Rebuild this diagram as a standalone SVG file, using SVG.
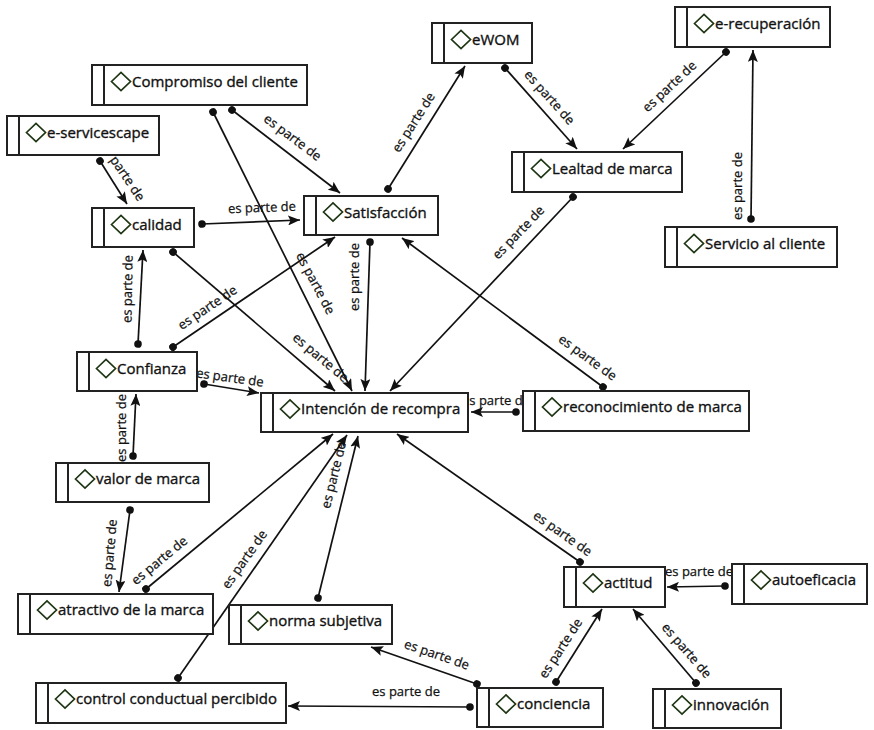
<svg xmlns="http://www.w3.org/2000/svg" width="874" height="730" viewBox="0 0 874 730">
<style>
.bg{fill:#ffffff}
.node rect{fill:#ffffff;stroke:#222222;stroke-width:2}
.node .div{stroke:#222222;stroke-width:2}
.node .dia{fill:none;stroke:#1d3513;stroke-width:1.7}
.node text{font-family:"Open Sans","Noto Sans","DejaVu Sans",sans-serif;font-size:15px;fill:#111111;stroke:#111111;stroke-width:0.35}
.conn path{fill:none;stroke:#111111;stroke-width:1.7;marker-start:url(#dot);marker-end:url(#arr)}
.lbl{font-family:"Open Sans","Noto Sans","DejaVu Sans",sans-serif;font-size:13px;fill:#111111;stroke:#111111;stroke-width:0.25;text-anchor:middle;dominant-baseline:central}
</style>
<defs>
<marker id="arr" viewBox="0 0 12 10" refX="12" refY="5" markerWidth="12" markerHeight="10" markerUnits="userSpaceOnUse" orient="auto">
<path d="M0,0 L12,5 L0,10 L2.5,5 z" fill="#111111"/>
</marker>
<marker id="dot" viewBox="0 0 8 8" refX="4" refY="4" markerWidth="8" markerHeight="8" markerUnits="userSpaceOnUse" orient="auto">
<circle cx="4" cy="4" r="3.8" fill="#111111"/>
</marker>
<path id="dm" d="M-9.5,0 L0,-9 L9.5,0 L0,9 z"/>
</defs>
<rect class="bg" x="0" y="0" width="874" height="730"/>
<g id="connectors" class="conn">
<path d="M232,110 L340,193"/>
<path d="M213,112 L352,391"/>
<path d="M173,252 L335,391"/>
<path d="M202,224 L300,220"/>
<path d="M100,161 L127,204"/>
<path d="M388,189 L465,66"/>
<path d="M505,68 L577,149"/>
<path d="M726,52 L623,149"/>
<path d="M751,219 L753,50"/>
<path d="M573,197 L390,391"/>
<path d="M370,242 L365,391"/>
<path d="M173,347 L335,237"/>
<path d="M138,344 L143,250"/>
<path d="M204,384 L259,393"/>
<path d="M133,456 L136,394"/>
<path d="M130,510 L119,592"/>
<path d="M146,589 L333,434"/>
<path d="M178,678 L347,435"/>
<path d="M318,598 L358,436"/>
<path d="M580,562 L397,434"/>
<path d="M603,387 L402,238"/>
<path d="M516,412 L471,412"/>
<path d="M725,586 L667,587"/>
<path d="M556,682 L602,609"/>
<path d="M696,683 L633,609"/>
<path d="M477,684 L371,647"/>
<path d="M470,707 L288,706"/>
<g id="labels">
<text class="lbl" transform="translate(293,137) rotate(37)">es parte de</text>
<text class="lbl" transform="translate(316,283) rotate(62)">es parte de</text>
<text class="lbl" transform="translate(321,357) rotate(40)">es parte de</text>
<text class="lbl" transform="translate(262,207) rotate(-2)">es parte de</text>
<text class="lbl" transform="translate(128,178) rotate(56)">parte de</text>
<text class="lbl" transform="translate(413,122) rotate(-57.5)">es parte de</text>
<text class="lbl" transform="translate(550,97) rotate(48)">es parte de</text>
<text class="lbl" transform="translate(669,86) rotate(-43)">es parte de</text>
<text class="lbl" transform="translate(737,186) rotate(-90)">es parte de</text>
<text class="lbl" transform="translate(518,232) rotate(-46)">es parte de</text>
<text class="lbl" transform="translate(354,277) rotate(-90)">es parte de</text>
<text class="lbl" transform="translate(207,307) rotate(-34)">es parte de</text>
<text class="lbl" transform="translate(127,289) rotate(-89)">es parte de</text>
<text class="lbl" transform="translate(230,377) rotate(8)">es parte de</text>
<text class="lbl" transform="translate(121,428) rotate(-90)">es parte de</text>
<text class="lbl" transform="translate(109,553) rotate(-85)">es parte de</text>
<text class="lbl" transform="translate(159,560) rotate(-39.5)">es parte de</text>
<text class="lbl" transform="translate(244,559) rotate(-55)">es parte de</text>
<text class="lbl" transform="translate(333,475) rotate(-76)">es parte de</text>
<text class="lbl" transform="translate(563,533) rotate(35)">es parte de</text>
<text class="lbl" transform="translate(588,357) rotate(36)">es parte de</text>
<text class="lbl" transform="translate(496,400)">es parte de</text>
<text class="lbl" transform="translate(699,571)">es parte de</text>
<text class="lbl" transform="translate(560,648) rotate(-57)">es parte de</text>
<text class="lbl" transform="translate(687,650) rotate(49)">es parte de</text>
<text class="lbl" transform="translate(437,654) rotate(19)">es parte de</text>
<text class="lbl" transform="translate(406,691)">es parte de</text>
</g>
</g>
<g id="n-compromiso" class="node" transform="translate(92,65)"><rect width="215" height="40"/><line class="div" x1="12" y1="0" x2="12" y2="40"/><use href="#dm" class="dia" x="29" y="16.5"/><text x="40" y="22">Compromiso del cliente</text></g>
<g id="n-eservicescape" class="node" transform="translate(7,116)"><rect width="152" height="39"/><line class="div" x1="12" y1="0" x2="12" y2="39"/><use href="#dm" class="dia" x="29" y="16.5"/><text x="40" y="22">e-servicescape</text></g>
<g id="n-calidad" class="node" transform="translate(92,208)"><rect width="102" height="39"/><line class="div" x1="12" y1="0" x2="12" y2="39"/><use href="#dm" class="dia" x="29" y="16.5"/><text x="40" y="22">calidad</text></g>
<g id="n-satisfaccion" class="node" transform="translate(304,196)"><rect width="134" height="39"/><line class="div" x1="12" y1="0" x2="12" y2="39"/><use href="#dm" class="dia" x="29" y="16"/><text x="40" y="22">Satisfacción</text></g>
<g id="n-ewom" class="node" transform="translate(432,23)"><rect width="100" height="40"/><line class="div" x1="12" y1="0" x2="12" y2="40"/><use href="#dm" class="dia" x="29" y="16.5"/><text x="40" y="22">eWOM</text></g>
<g id="n-erecuperacion" class="node" transform="translate(675,7)"><rect width="155" height="40"/><line class="div" x1="12" y1="0" x2="12" y2="40"/><use href="#dm" class="dia" x="29" y="16.5"/><text x="40" y="22">e-recuperación</text></g>
<g id="n-lealtad" class="node" transform="translate(512,152)"><rect width="170" height="40"/><line class="div" x1="12" y1="0" x2="12" y2="40"/><use href="#dm" class="dia" x="29" y="16.5"/><text x="40" y="22">Lealtad de marca</text></g>
<g id="n-servicio" class="node" transform="translate(665,227)"><rect width="172" height="40"/><line class="div" x1="12" y1="0" x2="12" y2="40"/><use href="#dm" class="dia" x="29" y="16.5"/><text x="40" y="22">Servicio al cliente</text></g>
<g id="n-confianza" class="node" transform="translate(77,352)"><rect width="120" height="39"/><line class="div" x1="12" y1="0" x2="12" y2="39"/><use href="#dm" class="dia" x="29" y="16.5"/><text x="40" y="22">Confianza</text></g>
<g id="n-intencion" class="node" transform="translate(261,393)"><rect width="207" height="39"/><line class="div" x1="12" y1="0" x2="12" y2="39"/><use href="#dm" class="dia" x="29" y="16"/><text x="40" y="21">Intención de recompra</text></g>
<g id="n-reconocimiento" class="node" transform="translate(523,391)"><rect width="226" height="40"/><line class="div" x1="12" y1="0" x2="12" y2="40"/><use href="#dm" class="dia" x="29" y="16"/><text x="40" y="21">reconocimiento de marca</text></g>
<g id="n-valor" class="node" transform="translate(56,463)"><rect width="153" height="39"/><line class="div" x1="12" y1="0" x2="12" y2="39"/><use href="#dm" class="dia" x="29" y="16"/><text x="40" y="21">valor de marca</text></g>
<g id="n-atractivo" class="node" transform="translate(18,594)"><rect width="195" height="40"/><line class="div" x1="12" y1="0" x2="12" y2="40"/><use href="#dm" class="dia" x="29" y="16"/><text x="40" y="21">atractivo de la marca</text></g>
<g id="n-norma" class="node" transform="translate(229,605)"><rect width="163" height="39"/><line class="div" x1="12" y1="0" x2="12" y2="39"/><use href="#dm" class="dia" x="29" y="16"/><text x="40" y="21">norma subjetiva</text></g>
<g id="n-control" class="node" transform="translate(36,683)"><rect width="250" height="40"/><line class="div" x1="12" y1="0" x2="12" y2="40"/><use href="#dm" class="dia" x="29" y="16"/><text x="40" y="21">control conductual percibido</text></g>
<g id="n-actitud" class="node" transform="translate(564,567)"><rect width="101" height="40"/><line class="div" x1="12" y1="0" x2="12" y2="40"/><use href="#dm" class="dia" x="29" y="16"/><text x="40" y="21">actitud</text></g>
<g id="n-autoeficacia" class="node" transform="translate(732,564)"><rect width="135" height="40"/><line class="div" x1="12" y1="0" x2="12" y2="40"/><use href="#dm" class="dia" x="29" y="16"/><text x="40" y="21">autoeficacia</text></g>
<g id="n-conciencia" class="node" transform="translate(477,688)"><rect width="126" height="39"/><line class="div" x1="12" y1="0" x2="12" y2="39"/><use href="#dm" class="dia" x="29" y="16"/><text x="40" y="21">conciencia</text></g>
<g id="n-innovacion" class="node" transform="translate(653,689)"><rect width="128" height="39"/><line class="div" x1="12" y1="0" x2="12" y2="39"/><use href="#dm" class="dia" x="29" y="16"/><text x="40" y="21">innovación</text></g>
</svg>
